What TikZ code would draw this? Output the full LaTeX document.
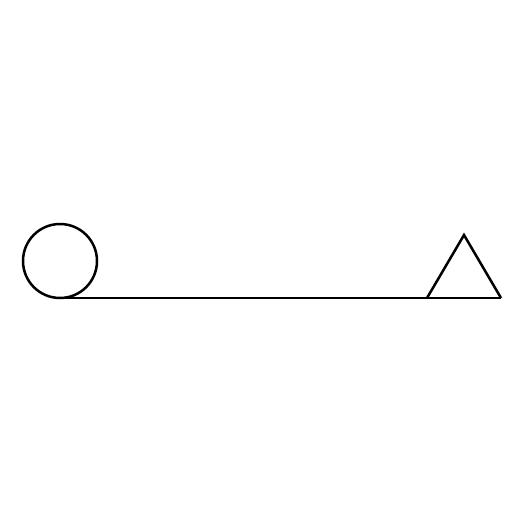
\documentclass[tikz,border=0pt]{standalone}
\usepackage{tikz}

\begin{document}
\begin{tikzpicture}[x=1pt,y=-1pt,line width=2.5pt]
\useasboundingbox (0,0) rectangle (525,525);
\node[draw,circle,minimum size=74pt,inner sep=0pt,outer sep=0pt,line width=2.5pt] (ball) at (60,261) {};
\coordinate (baseleft) at (ball.south -| 427,0);
\coordinate (baseright) at (ball.south -| 501,0);
\coordinate (apex) at (464,235);
\draw (ball.south) -- (baseright);
\draw[line join=miter] (baseleft) -- (apex) -- (baseright);
\end{tikzpicture}
\end{document}
